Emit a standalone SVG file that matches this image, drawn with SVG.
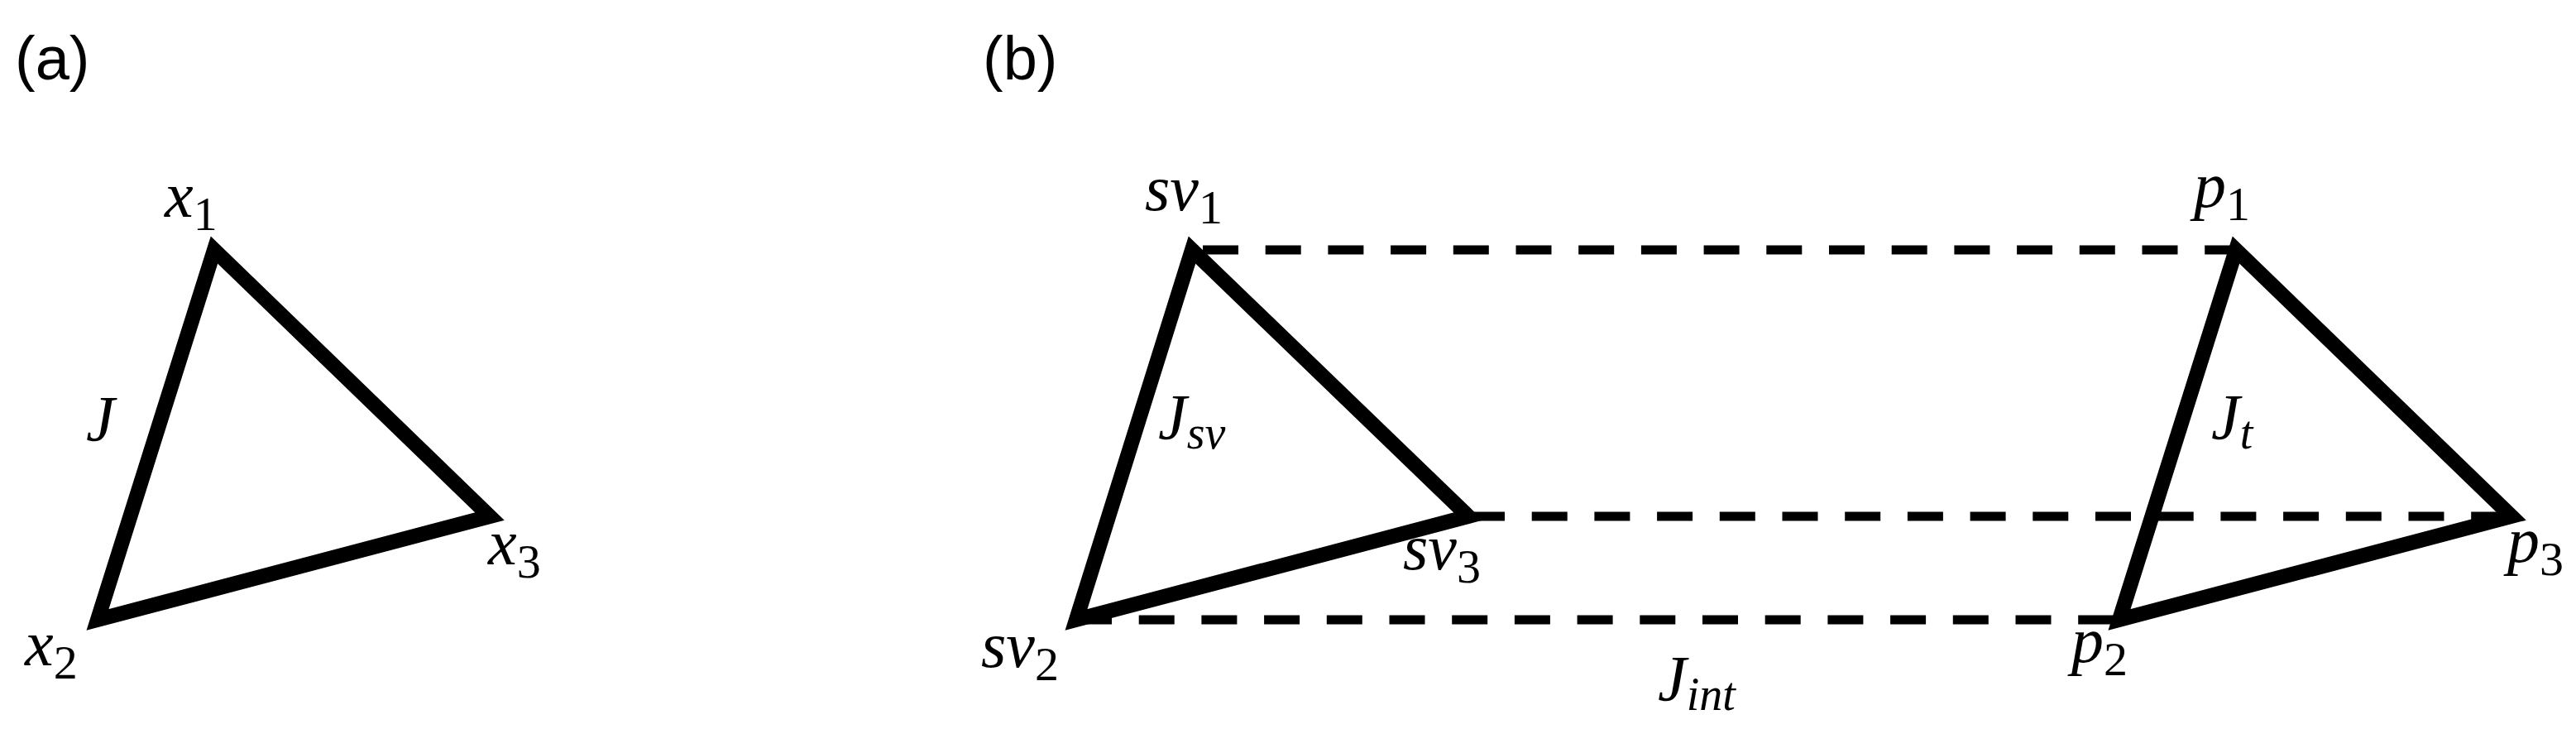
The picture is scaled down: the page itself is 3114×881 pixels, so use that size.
<svg xmlns="http://www.w3.org/2000/svg" width="3114" height="881" viewBox="0 0 3114 881">
  <style>
    .tri { fill: none; stroke: #000; stroke-width: 18; stroke-linejoin: miter; stroke-miterlimit: 10; }
    .dash { stroke: #000; stroke-width: 11; stroke-dasharray: 43 32.7; fill: none; }
    .panel { font-family: "Liberation Sans", Arial, sans-serif; font-size: 74px; fill: #000; }
    .m { font-family: "Liberation Serif", "Times New Roman", serif; font-style: italic; font-size: 78px; fill: #000; }
    .sub { font-style: normal; font-size: 58px; }
    .isub { font-size: 56px; }
  </style>
  <rect width="3114" height="881" fill="#fff"/>

  <text class="panel" x="18" y="96">(a)</text>
  <text class="panel" x="1188" y="96">(b)</text>

  <g id="connectors">
    <line class="dash" x1="1454" y1="302" x2="2703" y2="302"/>
    <line class="dash" x1="1776" y1="624" x2="3036" y2="624"/>
    <line class="dash" x1="1301" y1="749" x2="2562" y2="749"/>
  </g>

  <g id="triangle-a">
    <polygon class="tri" points="259,302 118,749 592,624"/>
    <text class="m" x="199" y="262">x<tspan class="sub" dy="16">1</tspan></text>
    <text class="m" x="30" y="804">x<tspan class="sub" dy="16">2</tspan></text>
    <text class="m" x="590" y="682">x<tspan class="sub" dy="16">3</tspan></text>
    <text class="m" x="104" y="532">J</text>
  </g>

  <g id="triangle-sv">
    <polygon class="tri" points="1441,302 1301,749 1775,624"/>
    <text class="m" x="1384" y="254">sv<tspan class="sub" dy="16">1</tspan></text>
    <text class="m" x="1186" y="806">sv<tspan class="sub" dy="16">2</tspan></text>
    <text class="m" x="1696" y="688">sv<tspan class="sub" dy="16">3</tspan></text>
    <text class="m" x="1400" y="530">J<tspan class="isub" dy="12">sv</tspan></text>
  </g>

  <g id="triangle-p">
    <polygon class="tri" points="2703,302 2562,749 3036,624"/>
    <text class="m" x="2652" y="250">p<tspan class="sub" dy="16">1</tspan></text>
    <text class="m" x="2504" y="800">p<tspan class="sub" dy="16">2</tspan></text>
    <text class="m" x="3031" y="679">p<tspan class="sub" dy="16">3</tspan></text>
    <text class="m" x="2673" y="530">J<tspan class="isub" dy="12">t</tspan></text>
  </g>

  <g id="label-jint">
    <text class="m" x="2004" y="846">J<tspan class="isub" dy="12">int</tspan></text>
  </g>
</svg>
